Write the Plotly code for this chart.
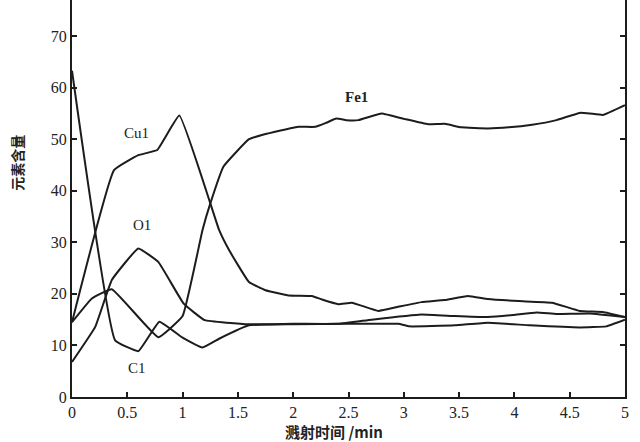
import plotly.graph_objects as go

# ---- data ----
cl_x = [0, 0.39, 0.60, 0.79, 1.0, 1.18, 1.33, 1.6, 2.0, 2.5, 2.95, 3.05, 3.46, 3.76, 4.14, 4.59, 4.83, 5.0]
cl_y = [63.3, 11.0, 8.9, 14.6, 11.5, 9.6, 11.3, 13.9, 14.1, 14.2, 14.2, 13.7, 13.9, 14.4, 13.9, 13.5, 13.7, 15.0]

o_x = [0, 0.21, 0.36, 0.60, 0.78, 1.01, 1.2, 1.6, 2.0, 2.41, 2.71, 3.16, 3.46, 3.76, 3.99, 4.20, 4.38, 4.68, 5.0]
o_y = [6.8, 13.6, 22.7, 28.8, 26.2, 18.1, 14.9, 14.1, 14.2, 14.2, 15.0, 16.0, 15.7, 15.5, 15.9, 16.4, 16.1, 16.2, 15.5]

fe_x = [0, 0.18, 0.36, 0.78, 1.0, 1.18, 1.25, 1.37, 1.60, 1.75, 1.93, 2.05, 2.20, 2.30, 2.39, 2.48, 2.59,
        2.80, 3.01, 3.22, 3.37, 3.52, 3.76, 3.95, 4.16, 4.38, 4.59, 4.68, 4.80, 5.0]
fe_y = [14.5, 19.1, 20.9, 11.6, 15.7, 32.4, 37.5, 44.7, 50.0, 51.0, 51.9, 52.4, 52.4, 53.2, 54.0, 53.7, 53.7,
        55.0, 53.9, 52.9, 53.0, 52.3, 52.1, 52.3, 52.8, 53.7, 55.1, 55.0, 54.7, 56.6]

cu_x = [0, 0.38, 0.60, 0.77, 0.97, 1.25, 1.33, 1.42, 1.60, 1.75, 1.96, 2.17, 2.26, 2.41, 2.53, 2.77, 2.95,
        3.16, 3.37, 3.58, 3.76, 4.04, 4.34, 4.59, 4.80, 5.0]
cu_y = [14.5, 44.0, 46.9, 47.9, 54.6, 37.6, 32.4, 28.5, 22.3, 20.7, 19.7, 19.6, 18.9, 18.0, 18.3, 16.7, 17.5,
        18.4, 18.8, 19.6, 19.0, 18.6, 18.3, 16.7, 16.5, 15.5]

x_ticks = [0, 0.5, 1, 1.5, 2, 2.5, 3, 3.5, 4, 4.5, 5]
x_tick_labels = ["0", "0.5", "1", "1.5", "2", "2.5", "3", "3.5", "4", "4.5", "5"]
y_ticks = [0, 10, 20, 30, 40, 50, 60, 70]

series_labels = ["C1", "O1", "Cu1", "<b>Fe1</b>"]
label_x = [0.585, 0.63, 0.585, 2.575]
label_y = [5.6, 33.3, 51.3, 58.1]

x_title = "溅射时间 /min"
y_title = "元素含量"

LINE = "#1c1c1c"
SERIF = "Liberation Serif, Times New Roman, serif"
CJK = "Noto Sans CJK SC, sans-serif"

fig = go.Figure()
for xs, ys in [(cl_x, cl_y), (o_x, o_y), (fe_x, fe_y), (cu_x, cu_y)]:
    fig.add_trace(go.Scatter(x=xs, y=ys, mode="lines",
                             line=dict(color=LINE, width=2, shape="spline", smoothing=0.3),
                             showlegend=False, hoverinfo="skip"))

for txt, lx, ly in zip(series_labels, label_x, label_y):
    fig.add_annotation(x=lx, y=ly, text=txt, showarrow=False,
                       font=dict(family=SERIF, size=15, color="#222"),
                       xanchor="center", yanchor="middle")

fig.add_annotation(xref="paper", yref="paper", x=0.474, y=-0.088, text="<b>" + x_title + "</b>",
                   showarrow=False, font=dict(family=CJK, size=15, color="#222"),
                   xanchor="center", yanchor="middle")
fig.add_annotation(xref="paper", yref="paper", x=-0.0995, y=0.59, text="<b>" + y_title + "</b>",
                   textangle=-90, showarrow=False, font=dict(family=CJK, size=14, color="#222"),
                   xanchor="center", yanchor="middle")

fig.update_layout(
    width=640, height=442,
    margin=dict(l=72, r=15, t=0, b=45),
    paper_bgcolor="white", plot_bgcolor="white",
)
fig.update_xaxes(range=[0, 5], tickvals=x_ticks, ticktext=x_tick_labels,
                 showgrid=False, zeroline=False, showline=True, linecolor=LINE, linewidth=2,
                 ticks="inside", ticklen=5, tickwidth=1.5, tickcolor=LINE,
                 tickfont=dict(family=SERIF, size=16, color="#222"), mirror=False)
fig.update_yaxes(range=[0, 77], tickvals=y_ticks,
                 showgrid=False, zeroline=False, showline=True, linecolor=LINE, linewidth=2,
                 ticks="inside", ticklen=5, tickwidth=1.5, tickcolor=LINE,
                 tickfont=dict(family=SERIF, size=16, color="#222"), mirror="ticks")

fig.write_html("out.html", config={"displayModeBar": False},
               post_script="document.body.style.margin='0';document.body.style.overflow='hidden';")
